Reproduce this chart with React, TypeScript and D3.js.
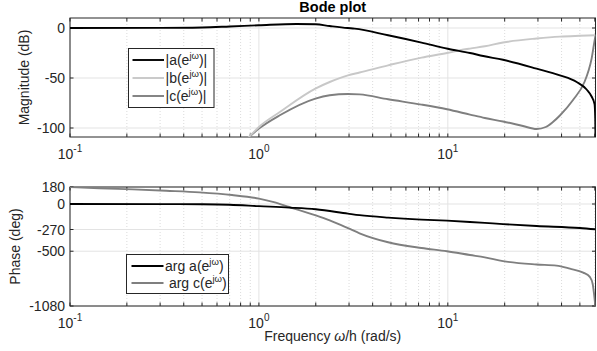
import React, { useEffect, useRef } from "react";
import * as d3 from "d3";

// [omega, dB]
const magA: [number, number][] = [
  [0.1, 0], [0.3, 0.1], [0.5, 0.5], [0.7, 1.5], [1, 2.7], [1.58, 4], [2, 3.7],
  [2.37, 2], [2.95, 0], [3.21, -0.6], [4.83, -7.3], [7.26, -14.6], [10, -20.8],
  [13.1, -25], [15.4, -28], [19.6, -31.8], [29.5, -40.6], [39.2, -47.3],
  [48.1, -54], [54.3, -61.5], [57.7, -68.5], [59.8, -76], [60.3, -90], [60.5, -110],
];
const magB: [number, number][] = [
  [0.875, -110], [1, -99], [1.29, -84], [1.99, -60.6], [2.37, -54], [2.96, -47.3],
  [3.41, -44.5], [4.83, -37.3], [7.26, -29.6], [9.9, -25], [11.6, -22.3],
  [13.1, -20.6], [15.7, -18.3], [19.6, -14.5], [29.5, -10.5], [39.2, -8.6],
  [50, -7.8], [60.5, -7.3],
];
const magC: [number, number][] = [
  [0.875, -110], [1, -100.6], [1.29, -87.3], [1.99, -70.6], [2.37, -67.3],
  [2.96, -66], [3.41, -66.4], [4.83, -71.3], [7.26, -76.6], [9.9, -81.3],
  [13.1, -86.6], [15.7, -90], [19.6, -93.5], [25, -98], [29.5, -101], [33, -99],
  [36, -94], [39.2, -87.5], [46, -72], [52.9, -54], [55.5, -43], [57.7, -30.6],
  [59.3, -17], [60.5, -7.3],
];
// [omega, deg]
const phaseA: [number, number][] = [
  [0.1, 0], [0.3, -1], [0.5, -3], [0.7, -8], [1, -23], [1.45, -38], [2, -56],
  [2.96, -102], [3.41, -118], [4.83, -144], [7.26, -165], [9.9, -176],
  [13.1, -190], [15.7, -200], [19.6, -213], [29.5, -233], [50, -254], [60.5, -268],
];
const phaseC: [number, number][] = [
  [0.1, 180], [0.143, 167], [0.215, 155], [0.323, 140], [0.485, 123], [0.72, 95],
  [1, 57], [1.2, 20], [1.45, -32], [2, -120], [2.37, -173], [2.96, -255],
  [3.41, -310], [4.83, -405], [7.26, -466], [9.9, -500], [13.1, -540],
  [15.7, -565], [19.6, -605], [29.5, -640], [37.6, -652], [44.3, -685],
  [52.1, -727], [56.6, -775], [58.5, -850], [59.5, -960], [60.4, -1080],
];

const decades = [0.1, 1, 10];
const decadeExp = ["-1", "0", "1"];
const magTicks = [-100, -50, 0];
const phaseTicks = [-1080, -500, -270, 0, 180];

const magLegend = ["a", "b", "c"];
const phaseLegend = ["arg a(e", " arg c(e"];

const COL_A = "#000000";
const COL_B = "#c8c8c8";
const COL_C = "#7f7f7f";
const FONT = "'Liberation Sans', Arial, Helvetica, sans-serif";

const App = () => {
  const ref = useRef<SVGSVGElement>(null);

  useEffect(() => {
    const svg = d3.select(ref.current);
    svg.selectAll("*").remove();

    const left = 70;
    const right = 595.5;
    const x = d3.scaleLog().domain([0.1, 60.5]).range([left, right]);
    const minors: number[] = [];
    [0.1, 1, 10].forEach((d) => {
      for (let k = 2; k <= 9; k++) if (d * k <= 60.5) minors.push(d * k);
    });

    function panel(id: string, y: d3.ScaleLinear<number, number>, ticks: number[], label: string, labelX: number) {
      const [bot, top] = y.range();
      const g = svg.append("g");
      g.append("clipPath").attr("id", id).append("rect")
        .attr("x", left).attr("y", top).attr("width", right - left).attr("height", bot - top);

      // grid
      g.selectAll(".mg").data(minors).enter().append("line")
        .attr("x1", (d) => x(d)).attr("x2", (d) => x(d)).attr("y1", top).attr("y2", bot)
        .attr("stroke", "#d2d2d2").attr("stroke-width", 0.8).attr("stroke-dasharray", "1,2");
      g.selectAll(".vg").data(decades).enter().append("line")
        .attr("x1", (d) => x(d)).attr("x2", (d) => x(d)).attr("y1", top).attr("y2", bot)
        .attr("stroke", "#e3e3e3").attr("stroke-width", 1);
      g.selectAll(".hg").data(ticks).enter().append("line")
        .attr("x1", left).attr("x2", right).attr("y1", (d) => y(d)).attr("y2", (d) => y(d))
        .attr("stroke", "#e3e3e3").attr("stroke-width", 1);

      // ticks (inside, all four sides)
      const tl = 3.5;
      [...decades, ...minors].forEach((d) => {
        g.append("line").attr("x1", x(d)).attr("x2", x(d)).attr("y1", bot).attr("y2", bot - tl)
          .attr("stroke", "#262626");
        g.append("line").attr("x1", x(d)).attr("x2", x(d)).attr("y1", top).attr("y2", top + tl)
          .attr("stroke", "#262626");
      });
      ticks.forEach((d) => {
        g.append("line").attr("x1", left).attr("x2", left + tl).attr("y1", y(d)).attr("y2", y(d))
          .attr("stroke", "#262626");
        g.append("line").attr("x1", right).attr("x2", right - tl).attr("y1", y(d)).attr("y2", y(d))
          .attr("stroke", "#262626");
      });

      g.append("rect").attr("x", left).attr("y", top).attr("width", right - left).attr("height", bot - top)
        .attr("fill", "none").attr("stroke", "#262626").attr("stroke-width", 1);

      // tick labels
      g.selectAll(".yl").data(ticks).enter().append("text")
        .attr("x", left - 5).attr("y", (d) => y(d) + 5)
        .attr("text-anchor", "end").style("font-size", "14px").attr("fill", "#262626")
        .text((d) => String(d));
      decades.forEach((d, i) => {
        const t = g.append("text").attr("x", x(d)).attr("y", bot + 22)
          .attr("text-anchor", "middle").style("font-size", "14px").attr("fill", "#262626");
        t.append("tspan").text("10");
        t.append("tspan").attr("dy", -7).style("font-size", "10px").text(decadeExp[i]);
      });

      g.append("text")
        .attr("transform", "translate(" + labelX + "," + (top + bot) / 2 + ") rotate(-90)")
        .attr("text-anchor", "middle").style("font-size", "14px").attr("fill", "#262626")
        .text(label);

      return g;
    }

    const lineGen = (xs: d3.ScaleLogarithmic<number, number>, y: d3.ScaleLinear<number, number>) =>
      d3.line<[number, number]>().x((d) => xs(d[0])).y((d) => y(d[1])).curve(d3.curveMonotoneX);

    // magnitude
    const yMag = d3.scaleLinear().domain([-109, 10]).range([137, 18]);
    const gm = panel("clipMag", yMag, magTicks, "Magnitude (dB)", 28.5);
    const lm = lineGen(x, yMag);
    [[magC, COL_C], [magB, COL_B], [magA, COL_A]].forEach(([data, col]) => {
      gm.append("path").datum(data as [number, number][]).attr("d", lm)
        .attr("clip-path", "url(#clipMag)")
        .attr("fill", "none").attr("stroke", col as string).attr("stroke-width", 1.9);
    });

    // phase
    const yPh = d3.scaleLinear().domain([-1080, 180]).range([306, 187]);
    const gp = panel("clipPh", yPh, phaseTicks, "Phase (deg)", 20);
    const lp = lineGen(x, yPh);
    [[phaseC, COL_C], [phaseA, COL_A]].forEach(([data, col]) => {
      gp.append("path").datum(data as [number, number][]).attr("d", lp)
        .attr("clip-path", "url(#clipPh)")
        .attr("fill", "none").attr("stroke", col as string).attr("stroke-width", 1.9);
    });

    // title
    svg.append("text").attr("x", (left + right) / 2).attr("y", 12)
      .attr("text-anchor", "middle").style("font-size", "14.5px").style("font-weight", "bold")
      .text("Bode plot");

    // x label
    const xl = svg.append("text").attr("x", (left + right) / 2).attr("y", 341)
      .attr("text-anchor", "middle").style("font-size", "14px").attr("fill", "#262626");
    xl.append("tspan").text("Frequency ");
    xl.append("tspan").style("font-style", "italic").text("\u03c9");
    xl.append("tspan").text("/h (rad/s)");

    // magnitude legend
    const lg1 = svg.append("g");
    lg1.append("rect").attr("x", 128.5).attr("y", 48.5).attr("width", 85.5).attr("height", 59)
      .attr("fill", "white").attr("stroke", "#262626").attr("stroke-width", 1);
    const magCols = [COL_A, COL_B, COL_C];
    magLegend.forEach((name, i) => {
      const yy = 60 + i * 18;
      lg1.append("line").attr("x1", 132.5).attr("x2", 164).attr("y1", yy).attr("y2", yy)
        .attr("stroke", magCols[i]).attr("stroke-width", 1.9);
      const t = lg1.append("text").attr("x", 165.5).attr("y", yy + 5).style("font-size", "14px")
        .attr("fill", "#262626");
      t.append("tspan").text("|" + name + "(e");
      t.append("tspan").attr("dy", -6).style("font-size", "9.5px").text("j\u03c9");
      t.append("tspan").attr("dy", 6).text(")|");
    });

    // phase legend
    const lg2 = svg.append("g");
    lg2.append("rect").attr("x", 126.5).attr("y", 254.5).attr("width", 102).attr("height", 39)
      .attr("fill", "white").attr("stroke", "#262626").attr("stroke-width", 1);
    const phCols = [COL_A, COL_C];
    phaseLegend.forEach((name, i) => {
      const yy = 266 + i * 17;
      lg2.append("line").attr("x1", 131.5).attr("x2", 163.5).attr("y1", yy).attr("y2", yy)
        .attr("stroke", phCols[i]).attr("stroke-width", 1.9);
      const t = lg2.append("text").attr("x", 165).attr("y", yy + 5).style("font-size", "14px")
        .attr("fill", "#262626").attr("xml:space", "preserve").style("white-space", "pre");
      t.append("tspan").text(name);
      t.append("tspan").attr("dy", -6).style("font-size", "9.5px").text("j\u03c9");
      t.append("tspan").attr("dy", 6).text(")");
    });
  }, []);

  return (
    <svg
      ref={ref}
      width={597}
      height={351}
      style={{ position: "absolute", left: 0, top: 0, background: "white", fontFamily: FONT }}
    />
  );
};

export default App;
